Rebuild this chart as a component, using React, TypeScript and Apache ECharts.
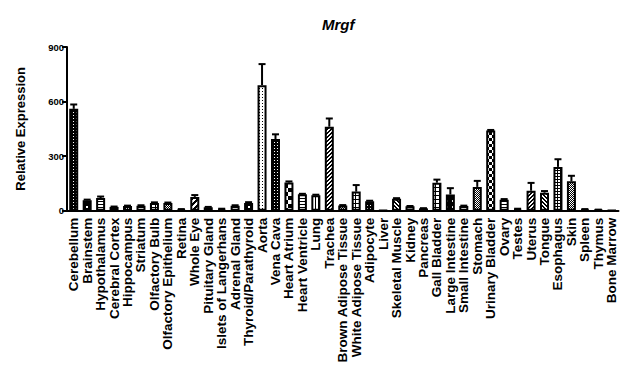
import React, { useEffect, useRef } from "react";
import * as echarts from "echarts";

const titleText = "Mrgf";
const yAxisName = "Relative Expression";
const yTicks = [0, 300, 600, 900];

const categories = [
  "Cerebellum", "Brainstem", "Hypothalamus", "Cerebral Cortex", "Hippocampus",
  "Striatum", "Olfactory Bulb", "Olfactory Epithelium", "Retina", "Whole Eye",
  "Pituitary Gland", "Islets of Langerhans", "Adrenal Gland", "Thyroid/Parathyroid",
  "Aorta", "Vena Cava", "Heart Atrium", "Heart Ventricle", "Lung", "Trachea",
  "Brown Adipose Tissue", "White Adipose Tissue", "Adipocyte", "Liver",
  "Skeletal Muscle", "Kidney", "Pancreas", "Gall Bladder", "Large Intestine",
  "Small Intestine", "Stomach", "Urinary Bladder", "Ovary", "Testes", "Uterus",
  "Tongue", "Esophagus", "Skin", "Spleen", "Thymus", "Bone Marrow",
];

const values = [
  560, 57, 70, 21, 26, 28, 43, 42, 8, 76,
  19, 10, 28, 43, 690, 394, 155, 90, 85, 462,
  29, 105, 52, 3, 66, 24, 13, 154, 89, 26,
  131, 441, 61, 10, 110, 99, 241, 162, 8, 5, 3,
];

const errors = [
  24, 4, 8, 2, 2, 2, 3, 3, 1, 10,
  2, 1, 2, 4, 116, 26, 6, 3, 3, 45,
  2, 36, 3, 0, 3, 2, 1, 17, 35, 2,
  33, 3, 3, 1, 43, 9, 42, 30, 1, 1, 0,
];

// fill pattern kind for each bar (style only)
const patternKinds = [
  "dotsOnBlack", "blob", "hLines", "crossDots", "crossDots",
  "hLines", "gridWhite", "crossDots", "hLines", "bigDiag",
  "hLines", "hLines", "hLines", "blob", "sparseDots",
  "dotsOnBlack", "bigChecker", "hLines", "vLines", "diagR",
  "crossDots", "gridWhite", "dotsOnBlack", "vLines", "diagL",
  "hLines", "hLines", "gridWhite", "blob", "hLines",
  "crossDots", "checker", "hLines", "hLines", "diagR",
  "diagL", "fineGrid", "crossDots", "hLines", "hLines", "hLines",
];

function makePattern(kind: string): HTMLCanvasElement {
  const c = document.createElement("canvas");
  let w = 4, h = 4;
  const px: [number, number][] = [];
  let bg = "#fff";
  let fg = "#000";
  switch (kind) {
    case "dotsOnBlack":
      w = 3; h = 3; bg = "#000"; fg = "#fff";
      px.push([1, 1]);
      break;
    case "blob":
      w = 6; h = 6; bg = "#000"; fg = "#fff";
      px.push([2, 2], [3, 2], [2, 3], [3, 3]);
      break;
    case "hLines":
      w = 1; h = 3;
      px.push([0, 0]);
      break;
    case "vLines":
      w = 3; h = 1;
      px.push([0, 0]);
      break;
    case "sparseDots":
      w = 3; h = 3;
      px.push([1, 1]);
      break;
    case "diagR":
      w = 4; h = 4;
      for (let i = 0; i < 4; i++) { px.push([i, 3 - i]); px.push([(i + 1) % 4, 3 - i]); }
      break;
    case "diagL":
      w = 4; h = 4;
      for (let i = 0; i < 4; i++) { px.push([i, i]); px.push([(i + 1) % 4, i]); }
      break;
    case "bigDiag":
      w = 6; h = 6;
      for (let i = 0; i < 6; i++) { px.push([i, 5 - i]); px.push([(i + 1) % 6, 5 - i]); px.push([(i + 2) % 6, 5 - i]); }
      break;
    case "gridWhite":
      w = 4; h = 4; bg = "#000"; fg = "#fff";
      for (let x = 0; x < 3; x++) for (let y = 0; y < 3; y++) px.push([x, y]);
      break;
    case "fineGrid":
      w = 3; h = 3; bg = "#000"; fg = "#fff";
      for (let x = 0; x < 2; x++) for (let y = 0; y < 2; y++) px.push([x, y]);
      break;
    case "checker":
      w = 6; h = 6; bg = "#000"; fg = "#fff";
      for (let x = 0; x < 3; x++) for (let y = 0; y < 3; y++) { px.push([x, y]); px.push([x + 3, y + 3]); }
      break;
    case "bigChecker":
      w = 8; h = 8; bg = "#000"; fg = "#fff";
      for (let x = 0; x < 4; x++) for (let y = 0; y < 4; y++) { px.push([x, y]); px.push([x + 4, y + 4]); }
      break;
    case "crossDots":
      w = 4; h = 4; bg = "#000"; fg = "#fff";
      px.push([0, 0], [2, 0], [1, 1], [3, 1], [0, 2], [2, 2], [1, 3], [3, 3]);
      break;
  }
  c.width = w;
  c.height = h;
  const ctx = c.getContext("2d")!;
  ctx.fillStyle = bg;
  ctx.fillRect(0, 0, w, h);
  ctx.fillStyle = fg;
  px.forEach(([x, y]) => ctx.fillRect(x, y, 1, 1));
  return c;
}

export default function App() {
  const ref = useRef<HTMLDivElement>(null);

  useEffect(() => {
    if (!ref.current) return;
    const chart = echarts.init(ref.current, null, { renderer: "svg" });

    const cache: Record<string, HTMLCanvasElement> = {};
    const barData = values.map((v, i) => {
      const k = patternKinds[i % patternKinds.length];
      if (!cache[k]) cache[k] = makePattern(k);
      return {
        value: v,
        itemStyle: { color: { image: cache[k], repeat: "repeat" } },
      };
    });

    const errData = values
      .map((v, i) => [i, v, errors[i]])
      .filter((d) => d[2] > 0);

    const font = "Arial, 'Liberation Sans', sans-serif";

    chart.setOption({
      animation: false,
      backgroundColor: "#fff",
      title: {
        text: titleText,
        left: 317,
        top: 12,
        textStyle: { fontFamily: font, fontSize: 15, fontWeight: "bold", fontStyle: "italic", color: "#000" },
      },
      grid: { left: 67, right: 7.5, top: 47, bottom: 146, containLabel: false },
      xAxis: {
        type: "category",
        data: categories,
        axisLine: { lineStyle: { color: "#000", width: 2 } },
        axisTick: { alignWithLabel: true, length: 4, lineStyle: { color: "#000", width: 2 } },
        axisLabel: {
          interval: 0,
          rotate: 90,
          margin: 7,
          color: "#000",
          fontFamily: font,
          fontWeight: "bold",
          fontSize: 13.5,
        },
      },
      yAxis: {
        type: "value",
        min: yTicks[0],
        max: yTicks[yTicks.length - 1],
        interval: 300,
        name: yAxisName,
        nameLocation: "middle",
        nameGap: 40,
        nameTextStyle: { fontFamily: font, fontWeight: "bold", fontSize: 13, color: "#000" },
        splitLine: { show: false },
        axisLine: { show: true, lineStyle: { color: "#000", width: 2 } },
        axisTick: { show: true, length: 5, lineStyle: { color: "#000", width: 2 } },
        axisLabel: { margin: 3, color: "#000", fontFamily: font, fontWeight: "bold", fontSize: 9.5 },
      },
      series: [
        {
          type: "bar",
          data: barData,
          barWidth: 9,
          itemStyle: { borderColor: "#000", borderWidth: 2 },
          z: 2,
        },
        {
          type: "custom",
          data: errData,
          encode: { x: 0, y: 1 },
          z: 3,
          renderItem: (params: any, api: any) => {
            const idx = api.value(0);
            const v = api.value(1);
            const e = api.value(2);
            const p0 = api.coord([idx, v]);
            const p1 = api.coord([idx, v + e]);
            return {
              type: "group",
              children: [
                { type: "line", shape: { x1: p0[0], y1: p0[1], x2: p1[0], y2: p1[1] }, style: { stroke: "#000", lineWidth: 2 } },
                { type: "line", shape: { x1: p1[0] - 3.5, y1: p1[1], x2: p1[0] + 3.5, y2: p1[1] }, style: { stroke: "#000", lineWidth: 2 } },
              ],
            };
          },
        },
      ],
    });

    return () => chart.dispose();
  }, []);

  return (
    <div
      ref={ref}
      style={{ position: "fixed", left: 0, top: 0, width: 626, height: 366, background: "#fff" }}
    />
  );
}
